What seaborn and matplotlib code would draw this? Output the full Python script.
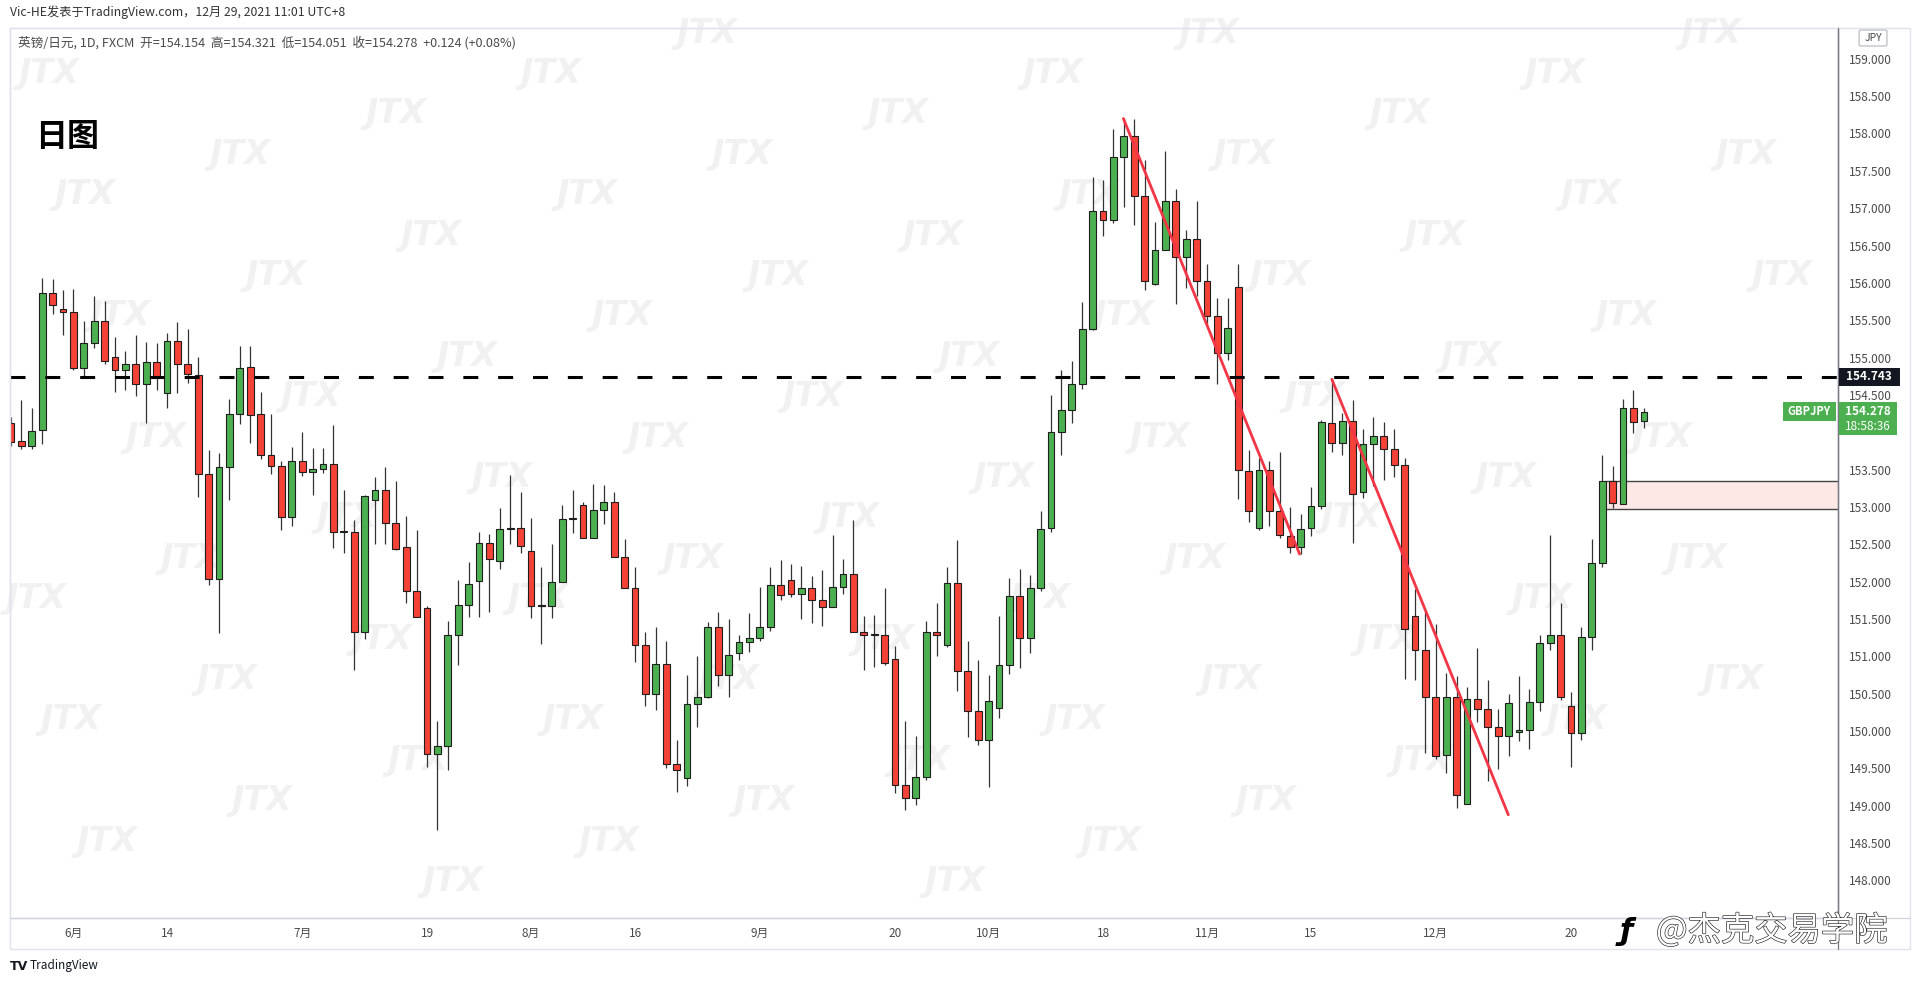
import numpy as np
import pandas as pd
import matplotlib
matplotlib.use('Agg')
import matplotlib.pyplot as plt
import matplotlib.patheffects as pe
from matplotlib.patches import Rectangle, FancyBboxPatch
from matplotlib.lines import Line2D
import seaborn as sns

# GBPJPY daily candles, 2021-05-24 .. 2021-12-29 (one entry per trading day)
opens = [154.12, 153.88, 153.82, 154.03, 155.86, 155.65, 155.61, 154.86, 155.19, 155.49,
         155.01, 154.84, 154.92, 154.65, 154.94, 154.52, 155.22, 154.91, 154.77, 153.44,
         152.03, 153.53, 154.24, 154.87, 154.25, 153.70, 153.55, 152.86, 153.61, 153.47,
         153.51, 153.57, 152.66, 152.67, 151.32, 153.09, 153.23, 152.79, 152.46, 151.88,
         151.65, 149.70, 149.80, 151.29, 151.69, 152.01, 152.52, 152.28, 152.70, 152.72,
         152.41, 151.68, 151.68, 152.00, 152.84, 153.02, 152.58, 152.96, 153.07, 152.33,
         151.91, 151.15, 150.50, 150.90, 149.56, 149.37, 150.36, 150.45, 151.39, 150.75,
         151.05, 151.19, 151.24, 151.40, 151.96, 152.02, 151.84, 151.92, 151.76, 151.66,
         151.93, 152.10, 151.33, 151.29, 151.29, 150.96, 149.28, 149.10, 149.38, 151.33,
         151.15, 151.98, 150.80, 150.27, 149.88, 150.31, 150.88, 151.81, 151.25, 151.91,
         152.72, 154.01, 154.30, 154.64, 155.38, 156.96, 156.84, 157.68, 157.96, 157.16,
         155.99, 156.44, 157.10, 156.35, 156.59, 156.03, 155.55, 155.06, 155.95, 153.48,
         152.72, 153.50, 152.94, 152.61, 152.47, 152.72, 153.01, 154.13, 153.86, 154.15,
         153.20, 153.84, 153.95, 153.77, 153.56, 151.54, 151.08, 150.46, 149.68, 150.46,
         149.03, 150.43, 150.30, 150.05, 149.94, 149.99, 150.02, 150.39, 151.18, 151.29,
         150.34, 149.98, 151.26, 152.25, 153.35, 153.04, 154.33, 154.154]
highs = [154.20, 154.43, 154.33, 156.06, 156.05, 155.91, 155.92, 155.49, 155.82, 155.76,
         155.27, 155.09, 155.30, 155.21, 155.19, 155.33, 155.47, 155.38, 155.01, 153.76,
         153.72, 154.45, 155.15, 155.15, 154.54, 154.25, 153.62, 153.80, 154.01, 153.79,
         153.79, 154.10, 153.23, 152.83, 153.16, 153.40, 153.54, 153.35, 152.88, 152.69,
         151.67, 150.13, 151.47, 152.02, 152.26, 152.66, 152.64, 152.98, 153.43, 153.20,
         152.85, 152.20, 152.50, 153.02, 153.23, 153.07, 153.31, 153.29, 153.20, 152.57,
         152.19, 151.33, 151.39, 151.21, 149.88, 150.75, 151.00, 151.46, 151.59, 151.50,
         151.28, 151.58, 151.93, 152.19, 152.29, 152.24, 152.21, 152.07, 152.15, 152.62,
         152.31, 152.83, 151.54, 151.55, 151.91, 151.14, 150.13, 149.94, 151.47, 151.72,
         152.19, 152.56, 151.20, 150.95, 150.75, 151.54, 152.05, 152.17, 152.09, 152.95,
         154.50, 154.83, 154.95, 155.75, 157.42, 157.38, 158.06, 158.21, 158.19, 157.65,
         156.82, 157.77, 157.26, 156.71, 157.09, 156.25, 155.80, 155.80, 156.25, 153.76,
         153.65, 153.62, 153.73, 153.00, 152.91, 153.27, 154.16, 154.71, 154.26, 154.43,
         154.04, 154.21, 154.14, 154.05, 153.66, 151.90, 151.61, 151.43, 150.78, 150.74,
         150.59, 151.11, 150.68, 150.30, 150.49, 150.74, 150.57, 151.29, 152.63, 151.71,
         150.53, 151.40, 152.57, 153.69, 153.55, 154.45, 154.57, 154.321]
lows = [153.82, 153.77, 153.77, 153.84, 155.58, 155.30, 154.84, 154.74, 155.13, 154.91,
        154.54, 154.56, 154.48, 154.13, 154.56, 154.32, 154.52, 154.66, 153.14, 151.96,
        151.31, 153.09, 154.11, 153.85, 153.64, 153.44, 152.69, 152.75, 153.42, 153.16,
        153.46, 152.45, 152.38, 150.82, 151.23, 152.50, 152.50, 152.43, 151.72, 151.53,
        149.52, 148.68, 149.48, 150.89, 151.53, 151.53, 151.60, 152.17, 152.51, 152.38,
        151.52, 151.16, 151.51, 152.00, 152.65, 152.58, 152.58, 152.77, 152.33, 151.91,
        150.92, 150.34, 150.28, 149.51, 149.18, 149.26, 150.05, 150.44, 150.61, 150.46,
        150.95, 151.06, 151.21, 151.34, 151.75, 151.79, 151.50, 151.45, 151.41, 151.66,
        151.84, 151.33, 150.82, 150.86, 150.89, 149.17, 148.94, 149.01, 149.34, 151.00,
        151.12, 150.54, 149.92, 149.82, 149.25, 150.17, 150.76, 150.84, 151.05, 151.88,
        152.66, 153.69, 154.12, 154.58, 155.37, 156.63, 156.80, 157.01, 156.77, 155.91,
        155.97, 156.44, 155.72, 155.93, 155.82, 155.45, 154.65, 154.97, 153.11, 152.80,
        152.69, 152.74, 152.58, 152.38, 152.37, 152.61, 152.97, 153.73, 153.69, 152.52,
        153.12, 153.28, 153.36, 153.40, 150.70, 150.68, 149.71, 149.62, 149.44, 148.97,
        149.03, 150.12, 149.33, 149.49, 149.66, 149.87, 149.76, 150.27, 151.09, 150.42,
        149.52, 149.88, 151.09, 152.19, 152.98, 153.04, 153.99, 154.051]
closes = [153.87, 153.82, 154.02, 155.86, 155.70, 155.61, 154.86, 155.19, 155.49, 154.95,
          154.84, 154.92, 154.65, 154.94, 154.73, 155.22, 154.91, 154.78, 153.44, 152.03,
          153.53, 154.24, 154.86, 154.23, 153.70, 153.55, 152.86, 153.61, 153.47, 153.51,
          153.57, 152.66, 152.66, 151.32, 153.15, 153.23, 152.79, 152.44, 151.88, 151.53,
          149.70, 149.80, 151.29, 151.69, 151.97, 152.52, 152.30, 152.70, 152.72, 152.48,
          151.68, 151.68, 152.00, 152.84, 152.84, 152.58, 152.96, 153.07, 152.33, 151.91,
          151.15, 150.50, 150.90, 149.56, 149.48, 150.36, 150.45, 151.39, 150.75, 151.02,
          151.19, 151.24, 151.40, 151.96, 151.82, 151.84, 151.92, 151.76, 151.66, 151.93,
          152.10, 151.33, 151.29, 151.29, 150.91, 149.28, 149.10, 149.38, 151.33, 151.29,
          151.98, 150.80, 150.27, 149.88, 150.40, 150.88, 151.81, 151.25, 151.91, 152.71,
          154.01, 154.30, 154.64, 155.38, 156.96, 156.84, 157.68, 157.96, 157.16, 156.03,
          156.44, 157.10, 156.35, 156.59, 156.03, 155.55, 155.06, 155.40, 153.49, 152.94,
          153.50, 152.94, 152.62, 152.47, 152.70, 153.01, 154.14, 153.86, 154.15, 153.18,
          153.84, 153.95, 153.77, 153.56, 151.37, 151.08, 150.46, 149.67, 150.46, 149.14,
          150.43, 150.30, 150.06, 149.94, 150.38, 150.02, 150.39, 151.18, 151.29, 150.45,
          149.98, 151.26, 152.25, 153.35, 153.06, 154.33, 154.14, 154.278]

tick_pos = [6, 15, 28, 40, 50, 60, 72, 85, 94, 105, 115, 125, 137, 150]
tick_labels = ['6月', '14', '7月', '19', '8月', '16', '9月', '20', '10月', '18', '11月', '15', '12月', '20']
price_ticks = [148.0 + 0.5 * k for k in range(23)]

level = 154.743
zone_low, zone_high, zone_start = 152.97, 153.35, 153.3
trend1_x, trend1_y = [106.96, 123.9], [158.20, 152.37]
trend2_x, trend2_y = [127.0, 143.97], [154.71, 148.88]
last_price, countdown = 154.278, '18:58:36'

df = pd.DataFrame({'open': opens, 'high': highs, 'low': lows, 'close': closes})
df['i'] = np.arange(len(df))
df['up'] = df['close'] >= df['open']

sns.set_theme(style='white')
plt.rcParams['font.family'] = ['Noto Sans CJK SC', 'DejaVu Sans']

W, H = 1920, 986
fig = plt.figure(figsize=(W / 100, H / 100), dpi=100)
fig.patch.set_facecolor('white')

# plot area in pixels: x 10..1838, y 28..918 (top origin)
ax = fig.add_axes([10 / W, 1 - 918 / H, 1828 / W, 890 / H])
ax.set_facecolor('none')
ax.set_xlim(-0.096, 175.67)
ax.set_ylim(147.498, 159.412)

GREEN, RED = '#4caf50', '#f44336'

# wicks + bodies
ax.vlines(df['i'], df['low'], df['high'], color='#333333', lw=0.9, zorder=2)
body_lo = df[['open', 'close']].min(axis=1)
body_h = (df['close'] - df['open']).abs().clip(lower=0.012)
ax.bar(df['i'], body_h, bottom=body_lo, width=0.64,
       color=np.where(df['up'], GREEN, RED), edgecolor='#1e1e1e', linewidth=0.8, zorder=3)

# demand zone
ax.add_patch(Rectangle((zone_start, zone_low), 40, zone_high - zone_low,
                       facecolor='#fde8e6', edgecolor='#444444', lw=1.0, zorder=1))

# resistance level
ax.axhline(level, color='black', lw=2.2, linestyle=(0, (4.9, 6.5)), zorder=4)

# trend lines
sns.lineplot(x=trend1_x, y=trend1_y, ax=ax, color='#f23645', linewidth=2.0, zorder=4)
sns.lineplot(x=trend2_x, y=trend2_y, ax=ax, color='#f23645', linewidth=2.0, zorder=4)

ax.grid(False)
ax.yaxis.tick_right()
ax.set_yticks(price_ticks)
# the 154.000 label sits under the live price tag
ax.set_yticklabels(['' if abs(p - 154.0) < 1e-9 else f'{p:.3f}' for p in price_ticks])
ax.set_xticks(tick_pos)
ax.set_xticklabels(tick_labels)
ax.tick_params(axis='y', length=0, pad=8, labelsize=8.5, labelcolor='#4a4a4a')
ax.tick_params(axis='x', length=0, pad=6.5, labelsize=8.5, labelcolor='#4a4a4a')
for s in ['top', 'left']:
    ax.spines[s].set_color('#e0e3eb')
ax.spines['right'].set_color('#787b86')
ax.spines['bottom'].set_color('#d1d4dc')
for s in ax.spines.values():
    s.set_linewidth(1.0)


def py(price):
    # top-origin pixel row of a price
    return H - ax.transData.transform((0, price))[1]


def box(x0, y0, x1, y1, color, z=6):
    fig.patches.append(Rectangle((x0 / W, 1 - y1 / H), (x1 - x0) / W, (y1 - y0) / H,
                                 transform=fig.transFigure, facecolor=color,
                                 edgecolor='none', zorder=z))


def ftext(x, y, s, **kw):
    return fig.text(x / W, 1 - y / H, s, **kw)


# outer frame and scale separators
fig.patches.append(Rectangle((10 / W, 1 - 949 / H), 1900 / W, 921 / H, transform=fig.transFigure,
                             fill=False, edgecolor='#e0e3eb', lw=1.0, zorder=1))
fig.lines.append(Line2D([1838 / W, 1838 / W], [1 - 28 / H, 1 - 949 / H], transform=fig.transFigure,
                        color='#787b86', lw=0.9, zorder=2))
fig.lines.append(Line2D([10 / W, 1910 / W], [1 - 918 / H, 1 - 918 / H], transform=fig.transFigure,
                        color='#d1d4dc', lw=0.9, zorder=2))

# price tags on the scale
yl = py(level)
box(1839, yl - 9, 1900, yl + 9, '#131722')
ftext(1869, yl, f'{level:.3f}', color='white', fontsize=8.5, fontweight='bold', ha='center', va='center', zorder=7)
yp = py(last_price)
box(1783, yp - 10, 1836, yp + 9, GREEN)
ftext(1809.5, yp - 0.5, 'GBPJPY', color='white', fontsize=8, fontweight='bold', ha='center', va='center', zorder=7)
box(1839, yp - 10, 1897, yp + 23, GREEN)
ftext(1868, yp, f'{last_price:.3f}', color='white', fontsize=8.5, fontweight='bold', ha='center', va='center', zorder=7)
ftext(1868, yp + 15, countdown, color='white', fontsize=8.5, ha='center', va='center', zorder=7)

fig.patches.append(FancyBboxPatch((1861 / W, 1 - 45 / H), 24 / W, 14 / H, boxstyle='round,pad=0.001',
                                  transform=fig.transFigure, facecolor='white', edgecolor='#b2b5be',
                                  lw=0.8, zorder=6))
ftext(1873, 38, 'JPY', color='#4a4a4a', fontsize=7.5, ha='center', va='center', zorder=7)

# headers
ftext(10, 12, 'Vic-HE发表于TradingView.com，12月 29, 2021 11:01 UTC+8', color='#333333',
      fontsize=8.8, va='center')
ftext(18, 43, '英镑/日元, 1D, FXCM  开=154.154  高=154.321  低=154.051  收=154.278  +0.124 (+0.08%)',
      color='#4a4a4a', fontsize=9.1, va='center')
ftext(35, 137, '日图', color='black', fontsize=23, fontweight='bold', va='center')

# footer
ftext(10, 966, 'TV', color='#131722', fontsize=9, fontweight='heavy', va='center', family='DejaVu Sans')
ftext(30, 966, 'TradingView', color='#131722', fontsize=8.5, va='center')
ftext(1620, 931, 'ƒ', color='black', fontsize=22, fontweight='bold', fontstyle='italic', va='center',
      family='DejaVu Sans', zorder=8)
ftext(1656, 931, '@杰克交易学院', color='white', fontsize=24, va='center', zorder=8,
      path_effects=[pe.withStroke(linewidth=0.9, foreground='#222222')])

# faint JTX watermark tiling, kept clear of the real labels
for a in range(-3, 9):
    for b in range(-3, 26):
        wx = 49 + a * 502 - b * 155.5
        wy = 73.5 + b * 40.4
        if not (30 < wx < 1800 and 30 < wy < 895):
            continue
        if wy < 65 and wx < 600:
            continue
        if wx < 140 and 100 < wy < 175:
            continue
        ftext(wx, wy, 'JTX', color='#f1f1f1', fontsize=24, fontweight='bold', fontstyle='italic',
              ha='center', va='center', family='DejaVu Sans', zorder=-1)

fig.savefig('out.png', dpi=100, facecolor='white')
